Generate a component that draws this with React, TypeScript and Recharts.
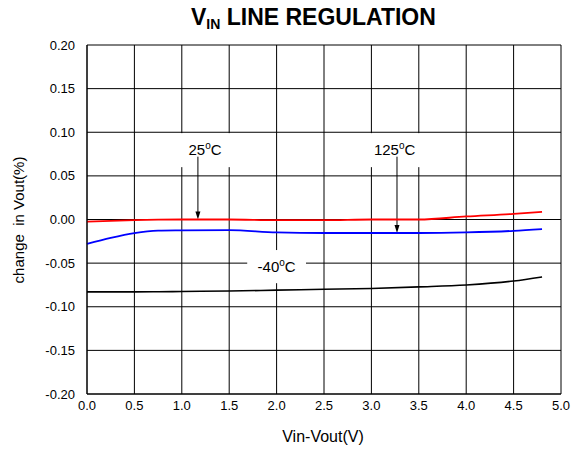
import React from 'react'
import {
  LineChart, Line, XAxis, YAxis, CartesianGrid, ReferenceArea, ReferenceLine,
} from 'recharts'

// Vin-Vout (V) sample points, shared by all three curves
const vinVout = [0, 0.25, 0.5, 0.75, 1.0, 1.5, 2.0, 2.5, 3.0, 3.5, 4.0, 4.5, 4.8]
// change in Vout (%)
const temp25 = [-0.0025, -0.0015, -0.0007, -0.0002, 0, 0, -0.0008, -0.0008, 0, 0, 0.0035, 0.0065, 0.0088]
const temp125 = [-0.028, -0.021, -0.0155, -0.0128, -0.0125, -0.0122, -0.0148, -0.0155, -0.0155, -0.0155, -0.0148, -0.013, -0.011]
const tempMinus40 = [-0.083, -0.083, -0.083, -0.0828, -0.0825, -0.082, -0.081, -0.08, -0.079, -0.0772, -0.075, -0.0705, -0.0658]

const xTicks = [0, 0.5, 1.0, 1.5, 2.0, 2.5, 3.0, 3.5, 4.0, 4.5, 5.0]
const yTicks = [-0.2, -0.15, -0.1, -0.05, 0, 0.05, 0.1, 0.15, 0.2]

const data = vinVout.map((x, i) => ({
  x,
  t25: temp25[i],
  t125: temp125[i],
  tm40: tempMinus40[i],
}))

const FONT = '"Liberation Sans", Arial, sans-serif'

// white box that hides the grid behind a temperature label
const labelBox = (lead: string) => (props: any) => {
  const { x, y, width, height } = props
  return (
    <g>
      <rect x={x} y={y} width={width} height={height} fill="#fff" stroke="none" />
      <text
        x={x + width / 2}
        y={y + height / 2 + 5}
        textAnchor="middle"
        fontFamily={FONT}
        fontSize={15}
        fill="#000"
      >
        {lead}
        <tspan dy={-6} fontSize={10}>o</tspan>
        <tspan dy={6}>C</tspan>
      </text>
    </g>
  )
}

const arrow = (props: any) => {
  const { x1, y1, x2, y2 } = props
  return (
    <g>
      <line x1={x1} y1={y1} x2={x2} y2={y2 - 6} stroke="#000" strokeWidth={1} />
      <polygon points={`${x2 - 2.5},${y2 - 8} ${x2 + 2.5},${y2 - 8} ${x2},${y2}`} fill="#000" />
    </g>
  )
}

export default function App() {
  return (
    <div style={{ position: 'absolute', left: 0, top: 0, width: 571, height: 450, background: '#fff' }}>
      <div
        style={{
          position: 'absolute', left: 191, top: 4, fontFamily: FONT, fontWeight: 'bold',
          fontSize: 23, whiteSpace: 'nowrap', color: '#000',
        }}
      >
        V<span style={{ fontSize: 14, verticalAlign: -4 }}>IN</span> LINE REGULATION
      </div>
      <div
        style={{
          position: 'absolute', left: 18, top: 220, transform: 'translate(-50%, -50%) rotate(-90deg)',
          fontFamily: FONT, fontSize: 15, whiteSpace: 'pre', color: '#000',
        }}
      >
        change  in Vout(%)
      </div>
      <div
        style={{
          position: 'absolute', left: 323, top: 437, transform: 'translate(-50%, -50%)',
          fontFamily: FONT, fontSize: 16, whiteSpace: 'nowrap', color: '#000',
        }}
      >
        Vin-Vout(V)
      </div>
      <LineChart
        width={571}
        height={450}
        data={data}
        margin={{ top: 45, right: 10, bottom: 26, left: 27 }}
      >
        <CartesianGrid stroke="#000" strokeWidth={1} horizontalValues={yTicks} verticalValues={xTicks} />
        <XAxis
          dataKey="x"
          type="number"
          domain={[0, 5]}
          ticks={xTicks}
          tickFormatter={(v: number) => v.toFixed(1)}
          tick={{ fontSize: 13, fill: '#000', fontFamily: FONT }}
          tickLine={false}
          axisLine={{ stroke: '#000' }}
          tickMargin={1}
          height={30}
          interval={0}
        />
        <YAxis
          type="number"
          domain={[-0.2, 0.2]}
          ticks={yTicks}
          tickFormatter={(v: number) => v.toFixed(2)}
          tick={{ fontSize: 13, fill: '#000', fontFamily: FONT }}
          tickLine={false}
          axisLine={{ stroke: '#000' }}
          tickMargin={6}
          width={60}
          interval={0}
        />
        <ReferenceArea x1={0.93} x2={1.56} y1={0.06} y2={0.099} shape={labelBox('25')} />
        <ReferenceArea x1={2.93} x2={3.56} y1={0.06} y2={0.099} shape={labelBox('125')} />
        <ReferenceArea x1={1.69} x2={2.31} y1={-0.073} y2={-0.035} shape={labelBox('-40')} />
        <ReferenceLine segment={[{ x: 1.17, y: 0.072 }, { x: 1.17, y: 0 }]} shape={arrow} />
        <ReferenceLine segment={[{ x: 3.27, y: 0.072 }, { x: 3.27, y: -0.0155 }]} shape={arrow} />
        <Line type="monotone" dataKey="t25" stroke="#ff0000" strokeWidth={1.8} dot={false} isAnimationActive={false} />
        <Line type="monotone" dataKey="t125" stroke="#0000ff" strokeWidth={1.8} dot={false} isAnimationActive={false} />
        <Line type="monotone" dataKey="tm40" stroke="#000" strokeWidth={1.6} dot={false} isAnimationActive={false} />
      </LineChart>
    </div>
  )
}
